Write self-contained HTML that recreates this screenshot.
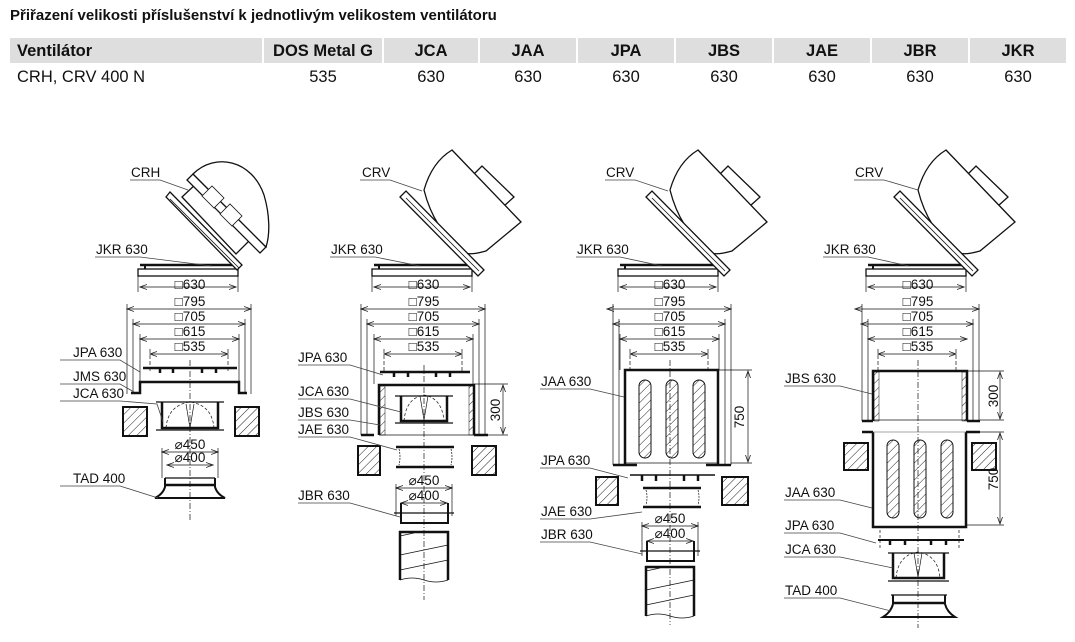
<!DOCTYPE html>
<html><head><meta charset="utf-8">
<style>
body{margin:0;background:#fff;width:1075px;height:642px;overflow:hidden;font-family:"Liberation Sans",sans-serif;}
.t{position:absolute;left:10px;top:7px;font-size:15px;font-weight:bold;color:#111;}
.h{position:absolute;top:38px;height:25px;background:#dedede;font-size:16.5px;font-weight:bold;line-height:26px;text-align:center;color:#111;}
.r{position:absolute;top:66px;font-size:16.5px;line-height:22px;text-align:center;color:#111;}
svg{position:absolute;left:0;top:0;}
svg text{font-family:"Liberation Sans",sans-serif;font-size:13.5px;fill:#111;}
</style></head><body>
<div class="t">Přiřazení velikosti příslušenství k jednotlivým velikostem ventilátoru</div>
<div class="h" style="left:10px;width:252px;text-align:left;padding-left:7px;box-sizing:border-box">Ventilátor</div>
<div class="h" style="left:264px;width:118px">DOS Metal G</div>
<div class="h" style="left:384px;width:94px">JCA</div>
<div class="h" style="left:480px;width:96px">JAA</div>
<div class="h" style="left:578px;width:96px">JPA</div>
<div class="h" style="left:676px;width:96px">JBS</div>
<div class="h" style="left:774px;width:96px">JAE</div>
<div class="h" style="left:872px;width:96px">JBR</div>
<div class="h" style="left:970px;width:96px">JKR</div>
<div class="r" style="left:17px;text-align:left">CRH, CRV 400 N</div>
<div class="r" style="left:264px;width:118px">535</div>
<div class="r" style="left:384px;width:94px">630</div>
<div class="r" style="left:480px;width:96px">630</div>
<div class="r" style="left:578px;width:96px">630</div>
<div class="r" style="left:676px;width:96px">630</div>
<div class="r" style="left:774px;width:96px">630</div>
<div class="r" style="left:872px;width:96px">630</div>
<div class="r" style="left:970px;width:96px">630</div>

<svg width="1075" height="642" viewBox="0 0 1075 642">
<defs>
<pattern id="hp" width="6" height="6" patternUnits="userSpaceOnUse" patternTransform="rotate(45)"><line x1="0" y1="0" x2="0" y2="6" stroke="#222" stroke-width="1"/></pattern>
<marker id="a" markerWidth="8" markerHeight="6" refX="7" refY="3" orient="auto-start-reverse" markerUnits="userSpaceOnUse"><path d="M0,0.5 L7,3 L0,5.5" fill="none" stroke="#222" stroke-width="0.8"/></marker>
<g id="jkr">
<line x1="-50" y1="265" x2="46" y2="265" stroke="#111" stroke-width="2.5"/>
<rect x="-52" y="269" width="100" height="7" fill="none" stroke="#111" stroke-width="1.3"/>
<line x1="-45" y1="265" x2="-45" y2="269" stroke="#111" stroke-width="2"/>
<line x1="-52" y1="276" x2="-52" y2="292" stroke="#111" stroke-width="0.7"/>
<line x1="48" y1="276" x2="48" y2="292" stroke="#111" stroke-width="0.7"/>
<line x1="-50" y1="287" x2="46" y2="287" stroke="#111" stroke-width="0.7" marker-start="url(#a)" marker-end="url(#a)"/>
<line x1="-63" y1="309" x2="61" y2="309" stroke="#111" stroke-width="0.7" marker-start="url(#a)" marker-end="url(#a)"/>
<line x1="-57" y1="324" x2="55" y2="324" stroke="#111" stroke-width="0.7" marker-start="url(#a)" marker-end="url(#a)"/>
<line x1="-50" y1="339" x2="49" y2="339" stroke="#111" stroke-width="0.7" marker-start="url(#a)" marker-end="url(#a)"/>
<line x1="-40" y1="354" x2="38" y2="354" stroke="#111" stroke-width="0.7" marker-start="url(#a)" marker-end="url(#a)"/>
<line x1="-40" y1="349" x2="-40" y2="372" stroke="#111" stroke-width="0.7" stroke-dasharray="4,2"/>
<line x1="38" y1="349" x2="38" y2="372" stroke="#111" stroke-width="0.7" stroke-dasharray="4,2"/>
</g>
<g id="crv" fill="#fff" stroke="#111" stroke-width="1.3">
<path d="M48,176 L58,166 L90,197 L80,206 Z"/>
<path d="M0,190 Q8,162 28,150 L97,222 L62,251 Q44,256 40,252 Q10,230 0,190 Z"/>
<path d="M-24,197 L-18,191 L60,270 L54,276 Z"/>
<line x1="-18" y1="198" x2="55" y2="271" stroke-width="0.8"/>
</g>
<g id="slots" fill="url(#hp)" stroke="#111" stroke-width="1">
<rect x="-6" y="0" width="12" height="78" rx="6"/>
</g>
</defs>

<g stroke="#111" fill="none" stroke-width="0.7">
<g transform="translate(190,0)">
<use href="#jkr"/>
<g fill="#fff" stroke="#111" stroke-width="1.3">
<path d="M-8,197 L8,182 L62,238 L46,254 Z"/>
<path d="M-24,197 L-20,192 L52,265 L47,270 Z"/>
<line x1="-20" y1="199" x2="49" y2="268" stroke-width="0.8"/>
<path d="M-3,180 L3,174 L76,247 L70,253 Z"/>
<path d="M3,174 C25,152 62,160 74,195 C80,215 80,235 76,247 Z"/>
<path d="M12,196 L22,186 L34,198 L24,208 Z" stroke-width="0.8"/>
<path d="M30,214 L40,204 L52,216 L42,226 Z" stroke-width="0.8"/>
</g>
<line x1="-63" y1="304" x2="-63" y2="394"/><line x1="61" y1="304" x2="61" y2="394"/>
<line x1="-57" y1="319" x2="-57" y2="394"/><line x1="55" y1="319" x2="55" y2="394"/>
<line x1="-50" y1="334" x2="-50" y2="382"/><line x1="49" y1="334" x2="49" y2="382"/>
<line x1="-47" y1="368" x2="47" y2="368" stroke-width="2.5"/>
<g stroke-width="2.5"><line x1="-30" y1="368" x2="-30" y2="373"/><line x1="-17" y1="368" x2="-17" y2="373"/><line x1="12" y1="368" x2="12" y2="373"/><line x1="26" y1="368" x2="26" y2="373"/></g>
<path d="M-59,393 L-50,393 L-50,382 L49,382 L49,393 L57,393" stroke-width="2.5"/>
<line x1="0" y1="360" x2="0" y2="520" stroke-dasharray="6,2,1,2"/>
<rect x="-67" y="407" width="24" height="29" fill="url(#hp)" stroke-width="2"/>
<rect x="45" y="407" width="24" height="29" fill="url(#hp)" stroke-width="2"/>
<path d="M-28,402 L-28,428 L28,428 L28,402" stroke-width="2.5"/>
<line x1="-34" y1="402" x2="34" y2="402" stroke-width="1.3"/>
<line x1="-34" y1="430" x2="34" y2="430" stroke-width="1.3"/>
<path d="M-24,428 Q-22,405 0,402 Q22,405 24,428" stroke-dasharray="3,2"/>
<path d="M-4,404 L0,428 L4,404"/>
<line x1="-28" y1="452" x2="28" y2="452" marker-start="url(#a)" marker-end="url(#a)"/>
<line x1="-28" y1="448" x2="-28" y2="478"/><line x1="28" y1="448" x2="28" y2="478"/>
<line x1="-23" y1="465" x2="23" y2="465" marker-start="url(#a)" marker-end="url(#a)"/>
<line x1="-25" y1="478" x2="25" y2="478" stroke-width="1.3"/>
<line x1="-25" y1="485" x2="25" y2="485" stroke-width="2.5"/>
<path d="M-25,478 L-25,487 Q-27,494 -35,498 L35,498 Q27,494 25,487 L25,478" stroke-width="2"/>
</g>

<g transform="translate(424,0)">
<use href="#jkr"/><use href="#crv"/>
<line x1="-63" y1="304" x2="-63" y2="435"/><line x1="61" y1="304" x2="61" y2="435"/>
<line x1="-57" y1="319" x2="-57" y2="435"/><line x1="55" y1="319" x2="55" y2="435"/>
<line x1="-50" y1="334" x2="-50" y2="384"/><line x1="49" y1="334" x2="49" y2="384"/>
<line x1="-44" y1="372" x2="46" y2="372" stroke-width="2.5"/>
<g stroke-width="2.5"><line x1="-30" y1="372" x2="-30" y2="377"/><line x1="-16" y1="372" x2="-16" y2="377"/><line x1="12" y1="372" x2="12" y2="377"/><line x1="26" y1="372" x2="26" y2="377"/></g>
<path d="M-45,435 L-45,385 L50,385 L50,435" stroke-width="2.5"/>
<rect x="-44" y="386" width="5" height="49" fill="url(#hp)" stroke-width="0.5"/>
<rect x="45" y="386" width="5" height="49" fill="url(#hp)" stroke-width="0.5"/>
<line x1="-45" y1="435" x2="50" y2="435"/>
<path d="M-63,435 L-50,435" stroke-width="2.5"/><path d="M50,435 L64,435" stroke-width="2.5"/>
<line x1="50" y1="384" x2="84" y2="384"/><line x1="64" y1="435" x2="84" y2="435"/>
<line x1="79" y1="385" x2="79" y2="434" marker-start="url(#a)" marker-end="url(#a)"/>
<path d="M-23,396 L-23,421 L23,421 L23,396" stroke-width="2.5"/>
<line x1="-29" y1="396" x2="29" y2="396" stroke-width="1.3"/><line x1="-29" y1="423" x2="29" y2="423" stroke-width="1.3"/>
<path d="M-20,421 Q-18,398 0,395 Q18,398 20,421" stroke-dasharray="3,2"/>
<path d="M-4,396 L0,420 L4,396"/>
<line x1="0" y1="365" x2="0" y2="600" stroke-dasharray="6,2,1,2"/>
<rect x="-66" y="446" width="22" height="29" fill="url(#hp)" stroke-width="2"/>
<rect x="48" y="446" width="24" height="29" fill="url(#hp)" stroke-width="2"/>
<line x1="-28" y1="447" x2="30" y2="447" stroke-width="2.5"/>
<line x1="-28" y1="467" x2="30" y2="467" stroke-width="2.5"/>
<path d="M-25,449 Q-23,457 -25,465 M27,449 Q29,457 27,465" stroke-dasharray="2,1"/>
<line x1="-28" y1="488" x2="28" y2="488" marker-start="url(#a)" marker-end="url(#a)"/>
<line x1="-28" y1="484" x2="-28" y2="516"/><line x1="28" y1="484" x2="28" y2="516"/>
<line x1="-23" y1="503" x2="23" y2="503" marker-start="url(#a)" marker-end="url(#a)"/>
<path d="M-23,503 L-23,523 L24,523 L24,503" stroke-width="2"/>
<line x1="-30" y1="513" x2="30" y2="513" stroke-width="1.3"/>
<path d="M-24,580 L-24,532 L24,532 L24,580" stroke-width="2.5"/>
<path d="M-24,536 L-10,533 M-24,555 L24,545 M-24,570 L24,560 M-24,580 Q-12,576 0,580 Q12,584 24,580"/>
</g>

<g transform="translate(670,0)">
<use href="#jkr"/><use href="#crv"/>
<line x1="-57" y1="304" x2="-57" y2="465"/><line x1="61" y1="304" x2="61" y2="465"/>
<line x1="-51" y1="319" x2="-51" y2="465"/><line x1="55" y1="319" x2="55" y2="465"/>
<line x1="-50" y1="334" x2="-50" y2="370"/><line x1="49" y1="334" x2="49" y2="370"/>
<path d="M-45,465 L-45,370 L48,370 L48,465" stroke-width="2.5"/>
<line x1="-45" y1="463" x2="48" y2="463"/>
<line x1="-57" y1="465" x2="-33" y2="465" stroke-width="2.5"/><line x1="36" y1="465" x2="61" y2="465" stroke-width="2.5"/>
<use href="#slots" x="-25" y="380"/><use href="#slots" x="2" y="380"/><use href="#slots" x="29" y="380"/>
<line x1="48" y1="370" x2="82" y2="370"/><line x1="61" y1="463" x2="82" y2="463"/>
<line x1="78" y1="371" x2="78" y2="462" marker-start="url(#a)" marker-end="url(#a)"/>
<line x1="0" y1="360" x2="0" y2="625" stroke-dasharray="6,2,1,2"/>
<line x1="-40" y1="475" x2="45" y2="475" stroke-width="1.5"/>
<g stroke-width="2.5"><line x1="-28" y1="475" x2="-28" y2="481"/><line x1="-14" y1="475" x2="-14" y2="481"/><line x1="14" y1="475" x2="14" y2="481"/><line x1="28" y1="475" x2="28" y2="481"/></g>
<rect x="-74" y="477" width="22" height="28" fill="url(#hp)" stroke-width="2"/>
<rect x="52" y="477" width="26" height="28" fill="url(#hp)" stroke-width="2"/>
<line x1="-27" y1="488" x2="31" y2="488" stroke-width="2.5"/>
<line x1="-27" y1="507" x2="31" y2="507" stroke-width="2.5"/>
<path d="M-24,490 Q-22,497 -24,505 M28,490 Q30,497 28,505" stroke-dasharray="2,1"/>
<line x1="-28" y1="526" x2="28" y2="526" marker-start="url(#a)" marker-end="url(#a)"/>
<line x1="-28" y1="522" x2="-28" y2="556"/><line x1="28" y1="522" x2="28" y2="556"/>
<line x1="-23" y1="541" x2="23" y2="541" marker-start="url(#a)" marker-end="url(#a)"/>
<path d="M-23,541 L-23,561 L24,561 L24,541" stroke-width="2"/>
<line x1="-30" y1="551" x2="30" y2="551" stroke-width="1.3"/>
<path d="M-24,616 L-24,567 L24,567 L24,616" stroke-width="2.5"/>
<path d="M-24,571 L-10,568 M-24,590 L24,580 M-24,605 L24,595 M-24,616 Q-12,612 0,616 Q12,620 24,616"/>
</g>

<g transform="translate(918,0)">
<use href="#jkr"/><use href="#crv"/>
<line x1="-56" y1="304" x2="-56" y2="421"/><line x1="61" y1="304" x2="61" y2="421"/>
<line x1="-50" y1="319" x2="-50" y2="421"/><line x1="55" y1="319" x2="55" y2="421"/>
<path d="M-45,421 L-45,371 L49,371 L49,421" stroke-width="2.5"/>
<rect x="-44" y="372" width="5" height="49" fill="url(#hp)" stroke-width="0.5"/>
<rect x="44" y="372" width="5" height="49" fill="url(#hp)" stroke-width="0.5"/>
<line x1="-45" y1="420" x2="49" y2="420"/>
<line x1="-56" y1="421" x2="-45" y2="421" stroke-width="2.5"/><line x1="49" y1="421" x2="62" y2="421" stroke-width="2.5"/>
<line x1="49" y1="371" x2="86" y2="371"/><line x1="62" y1="420" x2="86" y2="420"/>
<line x1="82" y1="372" x2="82" y2="419" marker-start="url(#a)" marker-end="url(#a)"/>
<path d="M-45,432 L-45,527 L48,527 L48,432" stroke-width="2.5"/>
<line x1="-56" y1="432" x2="-45" y2="432" stroke-width="2.5"/><line x1="48" y1="432" x2="62" y2="432" stroke-width="2.5"/>
<line x1="-45" y1="432" x2="48" y2="432" stroke="#888"/>
<use href="#slots" x="-25" y="440"/><use href="#slots" x="2" y="440"/><use href="#slots" x="29" y="440"/>
<line x1="62" y1="432" x2="86" y2="432"/><line x1="48" y1="525" x2="86" y2="525"/>
<line x1="82" y1="433" x2="82" y2="524" marker-start="url(#a)" marker-end="url(#a)"/>
<rect x="-74" y="443" width="24" height="27" fill="url(#hp)" stroke-width="2"/>
<rect x="54" y="443" width="24" height="27" fill="url(#hp)" stroke-width="2"/>
<line x1="0" y1="360" x2="0" y2="628" stroke-dasharray="6,2,1,2"/>
<line x1="-40" y1="540" x2="46" y2="540" stroke-width="2"/>
<g stroke-width="2.5"><line x1="-28" y1="540" x2="-28" y2="545"/><line x1="-13" y1="540" x2="-13" y2="545"/><line x1="13" y1="540" x2="13" y2="545"/><line x1="28" y1="540" x2="28" y2="545"/></g>
<line x1="-38" y1="530" x2="-38" y2="550" stroke-dasharray="3,2"/><line x1="41" y1="530" x2="41" y2="550" stroke-dasharray="3,2"/>
<path d="M-25,553 L-25,578 L26,578 L26,553" stroke-width="2.5"/>
<line x1="-30" y1="553" x2="31" y2="553" stroke-width="1.3"/><line x1="-30" y1="581" x2="31" y2="581" stroke-width="1.3"/>
<path d="M-22,578 Q-20,555 0,552 Q20,555 22,578" stroke-dasharray="3,2"/>
<path d="M-4,553 L0,577 L4,553"/>
<line x1="-27" y1="595" x2="29" y2="595" stroke-width="1.3"/>
<line x1="-25" y1="603" x2="27" y2="603" stroke-width="2.5"/>
<path d="M-25,595 L-25,604 Q-27,612 -35,617 L37,617 Q29,612 27,604 L27,595" stroke-width="2"/>
</g>

<g stroke="#444" stroke-width="0.8" transform="translate(0,4)">
<path d="M130,176 L160,176 L188,186"/>
<path d="M95,253 L140,253 L212,262"/>
<path d="M60,356 L120,356 L140,368"/>
<path d="M60,380 L120,380 L134,388"/>
<path d="M60,397 L120,397 L157,400 L163,418"/>
<path d="M60,482 L120,482 L158,494"/>
<path d="M360,176 L390,176 L422,187"/>
<path d="M330,253 L375,253 L420,262"/>
<path d="M298,361 L350,361 L383,371"/>
<path d="M298,395 L350,395 L401,408"/>
<path d="M298,416 L350,416 L380,421"/>
<path d="M298,433 L350,433 L397,446"/>
<path d="M298,499 L350,499 L400,513"/>
<path d="M605,176 L635,176 L668,187"/>
<path d="M576,253 L620,253 L662,262"/>
<path d="M540,385 L590,385 L624,393"/>
<path d="M540,464 L590,464 L628,474"/>
<path d="M540,515 L590,515 L642,508"/>
<path d="M540,538 L590,538 L642,550"/>
<path d="M854,176 L884,176 L918,186"/>
<path d="M823,253 L868,253 L909,262"/>
<path d="M784,382 L840,382 L872,390"/>
<path d="M784,496 L840,496 L872,504"/>
<path d="M784,529 L840,529 L876,539"/>
<path d="M784,553 L840,553 L893,564"/>
<path d="M784,594 L840,594 L891,607"/>
</g>
</g>

<g>
<text x="131" y="177">CRH</text><text x="96" y="254">JKR 630</text>
<text x="73" y="357">JPA 630</text><text x="73" y="381">JMS 630</text><text x="73" y="398">JCA 630</text><text x="73" y="483">TAD 400</text>
<text x="362" y="177">CRV</text><text x="331" y="254">JKR 630</text>
<text x="298" y="362">JPA 630</text><text x="298" y="396">JCA 630</text><text x="298" y="417">JBS 630</text><text x="298" y="434">JAE 630</text><text x="298" y="500">JBR 630</text>
<text x="606" y="177">CRV</text><text x="577" y="254">JKR 630</text>
<text x="541" y="386">JAA 630</text><text x="541" y="465">JPA 630</text><text x="541" y="516">JAE 630</text><text x="541" y="539">JBR 630</text>
<text x="855" y="177">CRV</text><text x="824" y="254">JKR 630</text>
<text x="785" y="383">JBS 630</text><text x="785" y="497">JAA 630</text><text x="785" y="530">JPA 630</text><text x="785" y="554">JCA 630</text><text x="785" y="595">TAD 400</text>
</g>
<g text-anchor="middle">
<text x="190" y="289">□630</text><text x="190" y="306">□795</text><text x="190" y="321">□705</text><text x="190" y="336">□615</text><text x="190" y="351">□535</text>
<text x="190" y="449">⌀450</text><text x="190" y="462">⌀400</text>
<text x="424" y="289">□630</text><text x="424" y="306">□795</text><text x="424" y="321">□705</text><text x="424" y="336">□615</text><text x="424" y="351">□535</text>
<text x="424" y="485">⌀450</text><text x="424" y="500">⌀400</text>
<text x="670" y="289">□630</text><text x="670" y="306">□795</text><text x="670" y="321">□705</text><text x="670" y="336">□615</text><text x="670" y="351">□535</text>
<text x="670" y="523">⌀450</text><text x="670" y="538">⌀400</text>
<text x="918" y="289">□630</text><text x="918" y="306">□795</text><text x="918" y="321">□705</text><text x="918" y="336">□615</text><text x="918" y="351">□535</text>
<text transform="translate(500,410) rotate(-90)">300</text>
<text transform="translate(744,417) rotate(-90)">750</text>
<text transform="translate(998,396) rotate(-90)">300</text>
<text transform="translate(998,479) rotate(-90)">750</text>
</g>
</svg>
</body></html>
